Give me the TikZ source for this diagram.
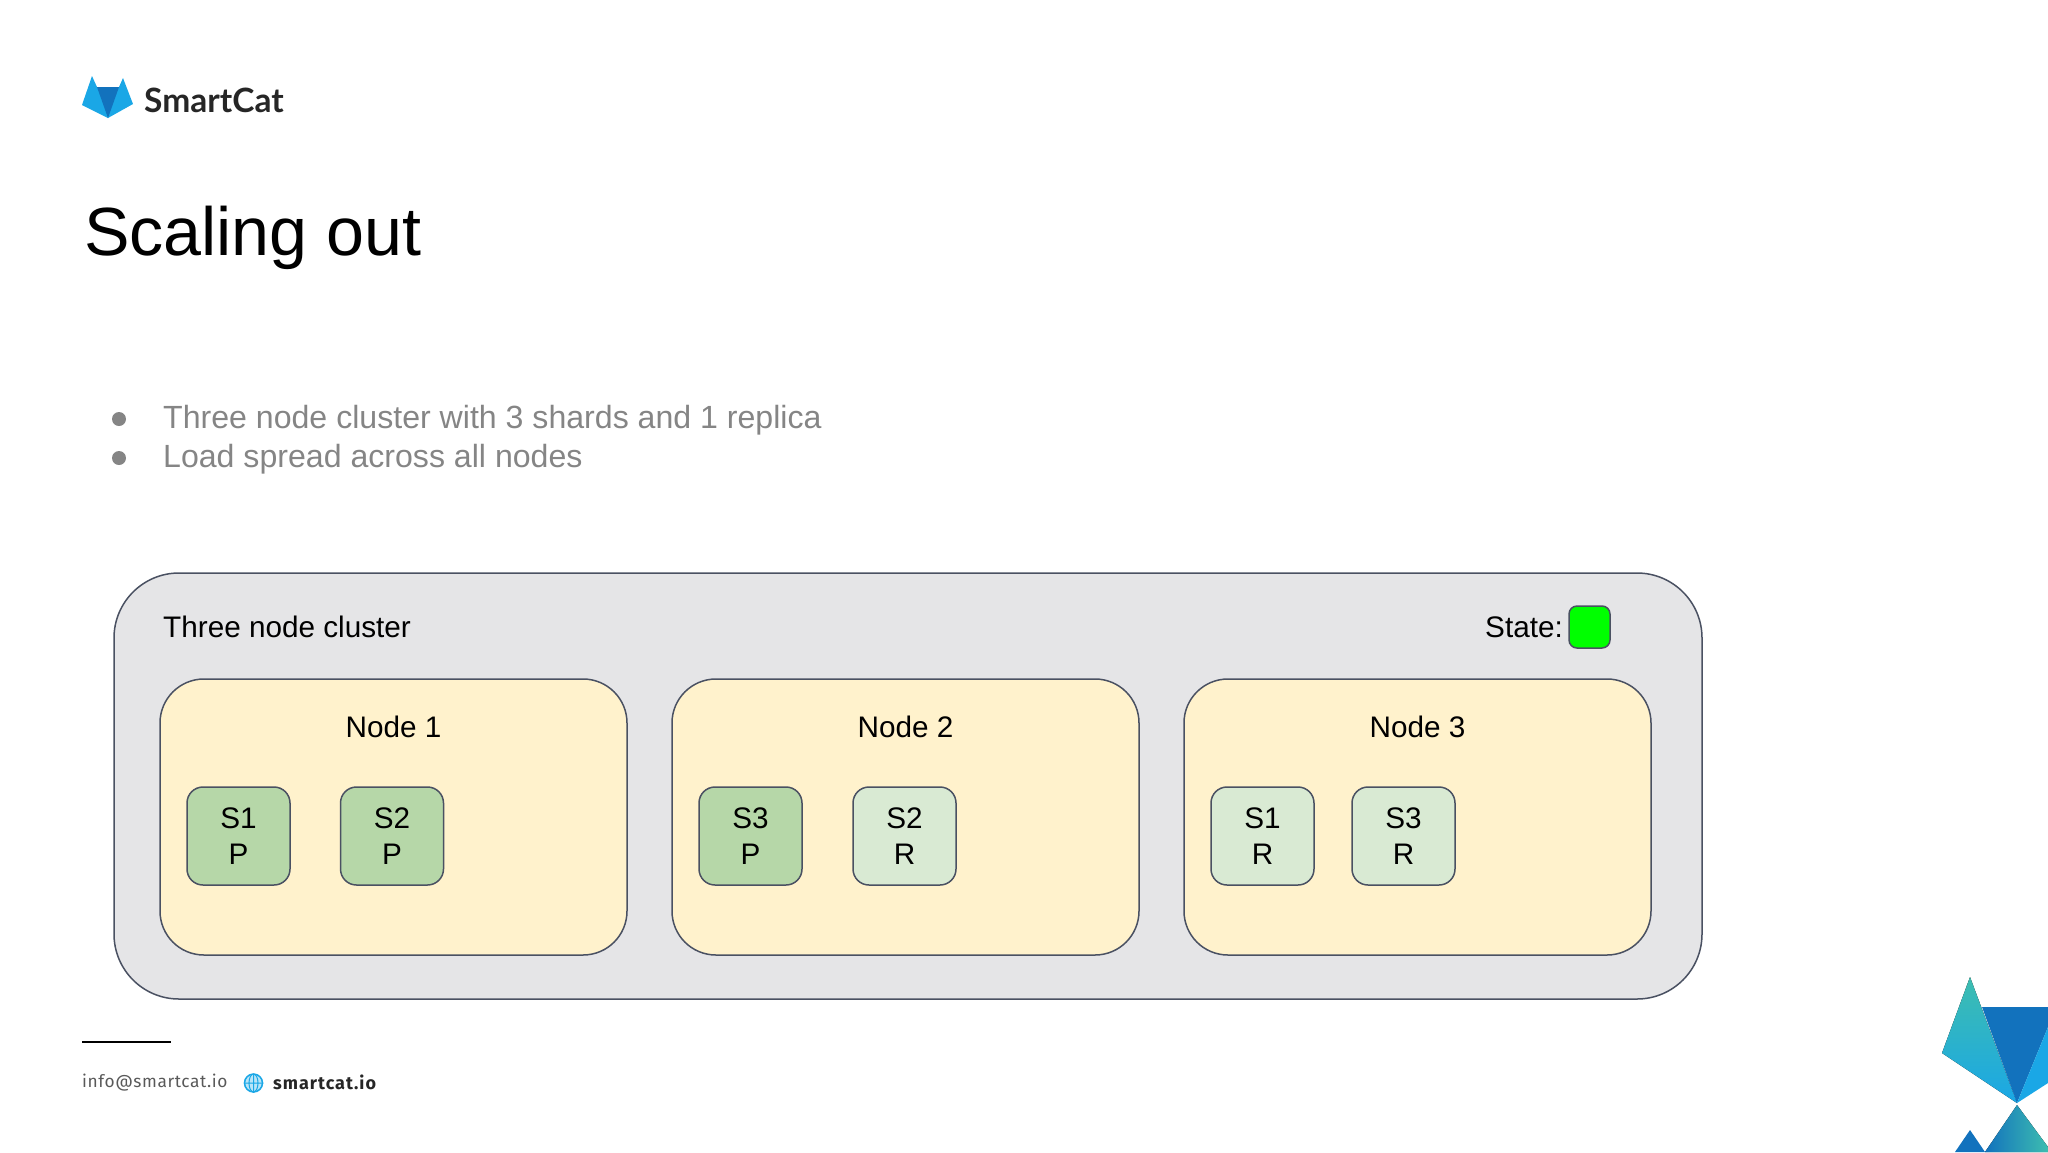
\documentclass[tikz,border=0pt]{standalone}
\usepackage{fontspec}
\setmainfont{Liberation Sans}
\newfontfamily\logofont{Lato}
\newfontfamily\footfont{Fira Sans}
\usepackage{tikz}
\usetikzlibrary{shapes}
\definecolor{edgec}{HTML}{4A5162}
\definecolor{clusterc}{HTML}{E5E5E7}
\definecolor{nodec}{HTML}{FFF2CC}
\definecolor{primaryc}{HTML}{B6D7A8}
\definecolor{replicac}{HTML}{D9EAD3}
\definecolor{stategreen}{HTML}{00FF00}
\definecolor{greyc}{HTML}{858585}
\definecolor{lightblue}{HTML}{1AA7E6}
\definecolor{darkblue}{HTML}{1272BD}
\definecolor{tealc}{HTML}{3DBDB0}
\newcommand{\Fs}[1]{\fontsize{#1}{#1}\selectfont}
\tikzset{
    cluster/.style={draw=edgec, line width=1.5pt, fill=clusterc, rounded corners=65pt, minimum width=1588pt, minimum height=426pt, outer sep=0pt},
    nodebox/.style={draw=edgec, line width=1.5pt, fill=nodec, rounded corners=44pt, minimum width=467pt, minimum height=276pt, outer sep=0pt},
    primary/.style={draw=edgec, line width=1.5pt, fill=primaryc, rounded corners=16pt, minimum width=103pt, minimum height=98pt, align=center, inner sep=0pt, font=\fontsize{29.7}{35.5}\selectfont},
    replica/.style={primary, fill=replicac},
    plaintext/.style={inner sep=0pt, font=\Fs{29.7}},
    bullet/.style={inner sep=0pt, anchor=west, text=greyc, font=\Fs{32.1}}
}
\begin{document}
\begin{tikzpicture}[x=1pt, y=-1pt]

    \useasboundingbox (0,0) rectangle (2048,1152);

    % logo
    \fill[lightblue] (92,76) -- (97,87) -- (119,87) -- (123,78) -- (133,104) -- (108,118) -- (82,105) -- cycle;
    \fill[darkblue] (97,87) -- (119,87) -- (108,118) -- cycle;
    \draw(144,100) node[anchor=west, inner sep=0pt, text=black!85] (brand) {\logofont\bfseries\Fs{33.5}SmartCat};

    \draw(84,238) node[anchor=west, inner sep=0pt] (title) {\Fs{68.2}Scaling out};

    % bullets
    \draw(119,419) node[circle, fill=greyc, minimum size=14pt, inner sep=0pt] (dota) {};
    \draw(119,458) node[circle, fill=greyc, minimum size=14pt, inner sep=0pt] (dotb) {};
    \draw(163,420.5) node[bullet] (linea) {Three node cluster with 3 shards and 1 replica};
    \draw(163,459.5) node[bullet] (lineb) {Load spread across all nodes};

    % cluster
    \draw(908,786) node[cluster] (cluster) {};
    \draw(163,627) node[plaintext, anchor=west] (clustertext) {Three node cluster};
    \draw(1563,627) node[plaintext, anchor=east] (statetext) {State:};
    \draw(1589.5,627) node[draw=edgec, line width=1.5pt, fill=stategreen, rounded corners=8pt, minimum width=41pt, minimum height=42pt] (state) {};

    \draw(393.5,817) node[nodebox] (n1) {};
    \draw(905.5,817) node[nodebox] (n2) {};
    \draw(1417.5,817) node[nodebox] (n3) {};
    \draw(393.5,727) node[plaintext] (n1text) {Node 1};
    \draw(905.5,727) node[plaintext] (n2text) {Node 2};
    \draw(1417.5,727) node[plaintext] (n3text) {Node 3};

    \draw(238.5,836) node[primary] (s1p) {S1\\P};
    \draw(392,836) node[primary] (s2p) {S2\\P};
    \draw(750.5,836) node[primary] (s3p) {S3\\P};
    \draw(904.5,836) node[replica] (s2r) {S2\\R};
    \draw(1262.5,836) node[replica] (s1r) {S1\\R};
    \draw(1403.5,836) node[replica] (s3r) {S3\\R};

    % footer
    \draw[line width=1.5pt] (82,1042) -- (171,1042);
    \draw(82,1083) node[anchor=west, inner sep=0pt, text=black!65] (mail) {\footfont\Fs{17.3}\addfontfeature{LetterSpace=3.5}info@smartcat.io};
    \draw(253.5,1083) node[circle, draw=lightblue, line width=1.5pt, fill=lightblue!30, minimum size=18pt, inner sep=0pt] (globe) {};
    \draw[lightblue, line width=1pt] (globe.north) -- (globe.south) (globe.west) -- (globe.east) (globe.center) ellipse (4.5pt and 9pt);
    \draw(273,1082) node[anchor=west, inner sep=0pt, text=black!85] (site) {\footfont\bfseries\Fs{18}\addfontfeature{LetterSpace=5.5}smartcat.io};

    % corner mark
    \fill[top color=tealc, bottom color=lightblue] (1970,977) -- (1942,1053) -- (2017,1103) -- cycle;
    \fill[darkblue] (1982,1007) -- (2048,1007) -- (2048,1027) -- (2017,1103) -- cycle;
    \fill[lightblue] (2048,1027) -- (2048,1083) -- (2017,1103) -- cycle;
    \fill[left color=darkblue, middle color=darkblue, right color=tealc] (2017,1105) -- (1985,1152) -- (2048,1152) -- (2048,1147) -- cycle;
    \fill[darkblue] (1970,1130) -- (1955,1152) -- (1985,1152) -- cycle;

\end{tikzpicture}
\end{document}
